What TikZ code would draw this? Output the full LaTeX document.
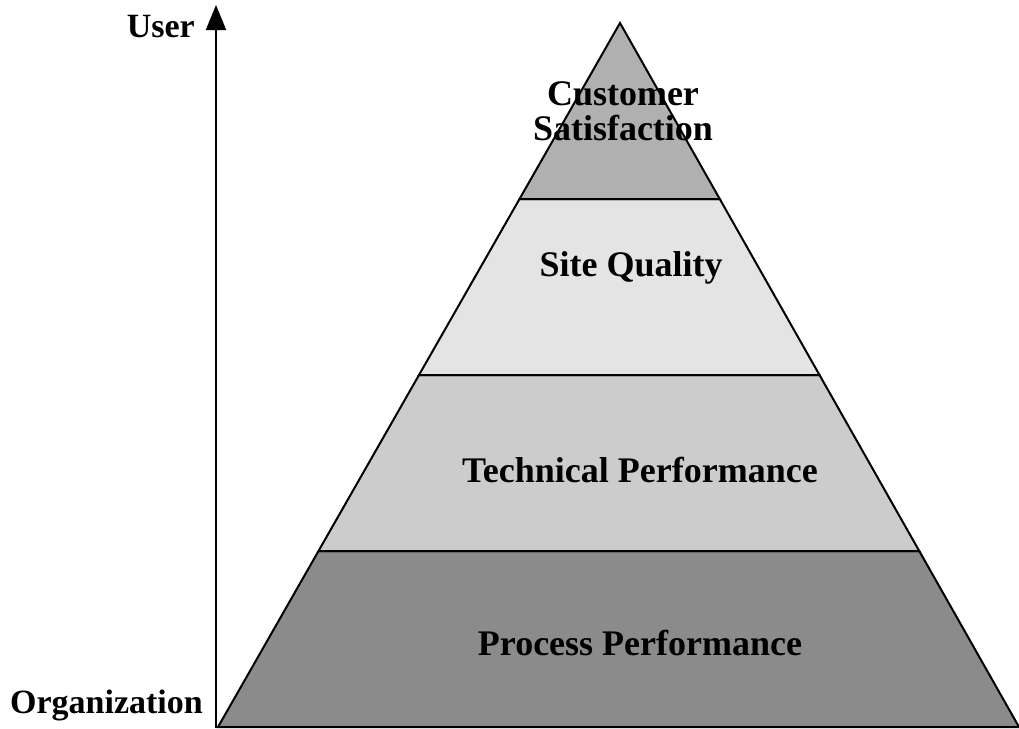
\documentclass[tikz,border=0pt]{standalone}
\usepackage{fontspec}
\setmainfont{Liberation Serif}
\usetikzlibrary{arrows.meta,calc,positioning}
\definecolor{topgray}{gray}{0.69}
\definecolor{sitegray}{gray}{0.895}
\definecolor{techgray}{gray}{0.80}
\definecolor{procgray}{gray}{0.545}
\tikzset{
    layer/.style={
           draw=black,
           line width=2pt,
           line join=miter
           },
    lbl/.style={
           font=\fontsize{36}{35}\selectfont\bfseries,
           inner sep=0pt,
           align=center
           },
    side/.style={
           font=\fontsize{34}{34}\selectfont\bfseries,
           inner sep=0pt,
           anchor=base east
           },
    axis/.style={
           line width=2pt,
           -{Triangle[length=25pt,width=20pt]}
           }
}
\begin{document}
\begin{tikzpicture}[x=1pt,y=-1pt]
   \useasboundingbox (0,0) rectangle (1019,728);
   \coordinate (apex) at (620,23);
   \coordinate (bl) at (218,727);
   \coordinate (br) at (1019,727);
   \coordinate (l1) at ($(apex)!0.25!(bl)$);
   \coordinate (r1) at ($(apex)!0.25!(br)$);
   \coordinate (l2) at ($(apex)!0.5!(bl)$);
   \coordinate (r2) at ($(apex)!0.5!(br)$);
   \coordinate (l3) at ($(apex)!0.75!(bl)$);
   \coordinate (r3) at ($(apex)!0.75!(br)$);

   % layers, bottom to top
   \filldraw[layer, fill=procgray] (l3) -- (r3) -- (br) -- (bl) -- cycle;
   \filldraw[layer, fill=techgray] (l2) -- (r2) -- (r3) -- (l3) -- cycle;
   \filldraw[layer, fill=sitegray] (l1) -- (r1) -- (r2) -- (l2) -- cycle;
   \filldraw[layer, fill=topgray]  (apex) -- (r1) -- (l1) -- cycle;

   \node[lbl, anchor=base] (cust) at (623,140) {Customer\\Satisfaction};
   \node[lbl, anchor=base] (site) at (631,276) {Site Quality};
   \node[lbl, anchor=base] (tech) at (640,482) {Technical Performance};
   \node[lbl, anchor=base] (proc) at (640,655) {Process Performance};

   % axis
   \coordinate (axbot) at (216,728);
   \coordinate (axtop) at (216,5);
   \draw[axis] (axbot) -- (axtop);
   \node[side] (user) at (195,37)  {User};
   \node[side] (org)  at (203,713) {Organization};
\end{tikzpicture}
\end{document}
